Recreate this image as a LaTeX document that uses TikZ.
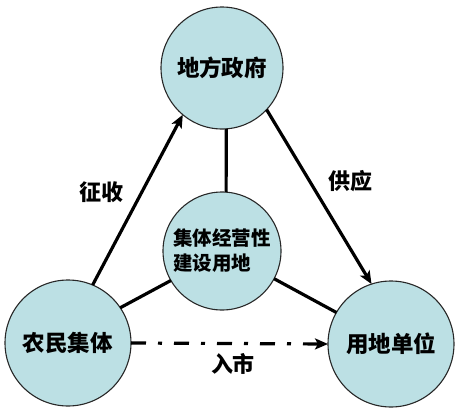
\documentclass[tikz,border=0pt]{standalone}
\usepackage{fontspec}
\setmainfont{Noto Sans CJK SC}
\usetikzlibrary{arrows.meta}
\definecolor{cfill}{RGB}{188,224,228}
\definecolor{cedge}{RGB}{40,40,40}
\tikzset{
  ent/.style={circle, draw=cedge, line width=1.1pt, fill=cfill, inner sep=0pt, outer sep=0pt,
              font=\fontsize{22.5}{26}\selectfont\bfseries},
  link/.style={line width=3.2pt, black},
  arr/.style={link, -{Stealth[length=13pt,width=11pt,inset=3pt]}},
  lbl/.style={font=\fontsize{22}{26}\selectfont\bfseries, inner sep=0pt}
}
\begin{document}
\begin{tikzpicture}[x=1pt,y=-1pt]
\useasboundingbox (0,0) rectangle (459,413);
\node[ent, minimum size=122pt] (top) at (222,68) {地方政府};
\node[ent, minimum size=118pt, align=left, font=\fontsize{19.5}{25}\selectfont\bfseries] (cen) at (222,251) {集体经营性\\建设用地};
\node[ent, minimum size=126pt] (bl) at (68,343) {农民集体};
\node[ent, minimum size=126pt] (br) at (391,344) {用地单位};
\draw[arr] (bl.67) -- (top.230);
\draw[arr] (top.-43) -- (br.108);
\draw[link] (top.274) -- (cen.86);
\draw[link] (cen.210) -- (bl.34);
\draw[link] (cen.332) -- (br.150);
\draw[arr, dash pattern=on 15pt off 12pt on 4pt off 12pt] (bl.east) -- (br.west);
\node[lbl] (l1) at (101,192) {征收};
\node[lbl] (l2) at (350,181) {供应};
\node[lbl] (l3) at (233,364) {入市};
\end{tikzpicture}
\end{document}
